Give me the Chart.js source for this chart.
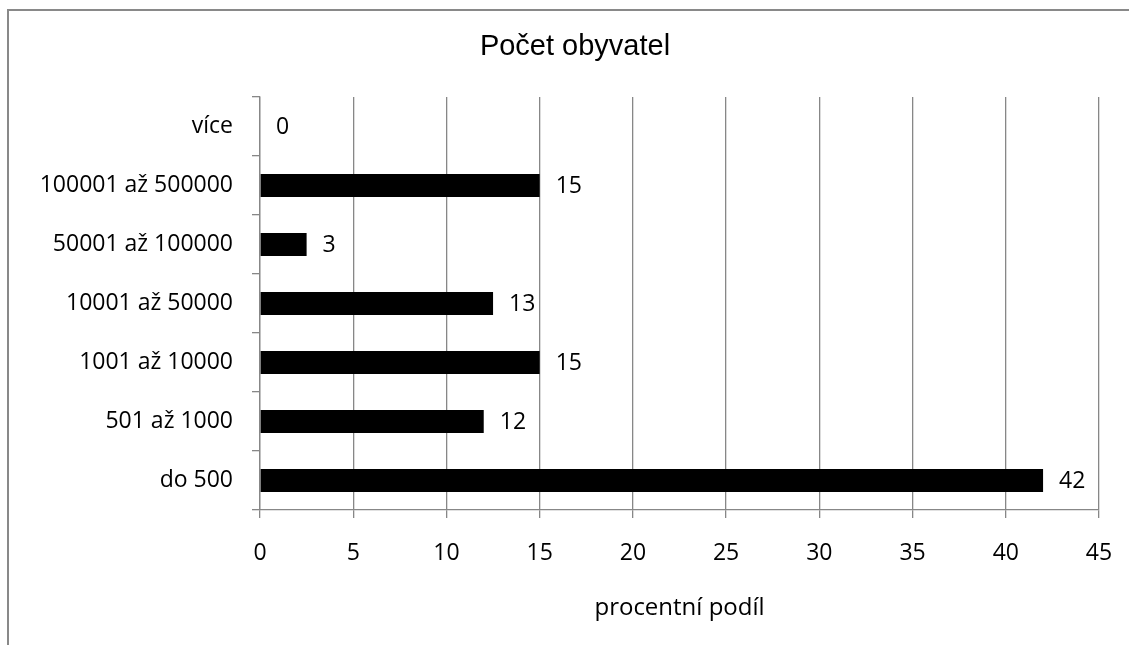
<!DOCTYPE html>
<html lang="cs">
<head>
<meta charset="utf-8">
<title>Počet obyvatel</title>
<script src="https://cdn.jsdelivr.net/npm/chart.js@4.4.1/dist/chart.umd.min.js"></script>
<style>
  html, body { margin: 0; padding: 0; background: #fff; }
  #wrap { width: 1129px; height: 645px; position: relative; }
  canvas { display: block; }
</style>
</head>
<body>
<div id="wrap"><canvas id="chart" width="1129" height="645"></canvas></div>
<script>
// Share of municipalities by population size (percent)
const categories = ['do 500', '501 až 1000', '1001 až 10000', '10001 až 50000', '50001 až 100000', '100001 až 500000', 'více'];
const shares = [42, 12, 15, 12.5, 2.5, 15, 0];
const xTicks = [0, 5, 10, 15, 20, 25, 30, 35, 40, 45];
const chartTitle = 'Počet obyvatel';
const axisTitle = 'procentní podíl';

const GRID = '#878787';
const BODY_FONT = '"Open Sans", "Liberation Sans", sans-serif';

// Outer frame of the chart (top and left edges) and the chart title
const framePlugin = {
  id: 'frame',
  beforeDraw(chart) {
    const ctx = chart.ctx;
    ctx.save();
    ctx.fillStyle = '#fff';
    ctx.fillRect(0, 0, chart.width, chart.height);
    ctx.strokeStyle = '#898989';
    ctx.lineWidth = 2;
    ctx.beginPath();
    ctx.moveTo(8, chart.height);
    ctx.lineTo(8, 10);
    ctx.lineTo(chart.width, 10);
    ctx.stroke();

    ctx.fillStyle = '#000';
    ctx.font = '29px "Liberation Sans", Arial, sans-serif';
    ctx.textAlign = 'center';
    ctx.textBaseline = 'middle';
    ctx.fillText(chartTitle, 575, 47);
    ctx.restore();
  }
};

// Value labels placed just past the end of each bar
const valueLabels = {
  id: 'valueLabels',
  afterDatasetsDraw(chart) {
    const ctx = chart.ctx;
    const meta = chart.getDatasetMeta(0);
    const data = chart.data.datasets[0].data;
    ctx.save();
    ctx.font = '23px ' + BODY_FONT;
    ctx.fillStyle = '#000';
    ctx.textAlign = 'left';
    ctx.textBaseline = 'middle';
    meta.data.forEach((bar, i) => {
      ctx.fillText(String(Math.round(data[i])), bar.x + 16, bar.y + 1);
    });
    ctx.restore();
  }
};

new Chart(document.getElementById('chart'), {
  type: 'bar',
  data: {
    labels: categories,
    datasets: [{
      data: shares,
      backgroundColor: '#000',
      borderWidth: 0,
      barPercentage: 0.39,
      categoryPercentage: 1
    }]
  },
  plugins: [framePlugin, valueLabels],
  options: {
    indexAxis: 'y',
    responsive: false,
    animation: false,
    devicePixelRatio: 1,
    layout: { padding: { left: 10, right: 30, top: 97, bottom: 0 } },
    plugins: {
      legend: { display: false },
      tooltip: { enabled: false },
      title: { display: false }
    },
    scales: {
      x: {
        type: 'linear',
        min: xTicks[0],
        max: xTicks[xTicks.length - 1],
        afterBuildTicks(scale) {
          scale.ticks = xTicks.map(v => ({ value: v }));
        },
        afterFit(scale) {
          scale.height = 135;
          scale.paddingRight = 0;
          scale.paddingLeft = 0;
        },
        grid: {
          color: GRID,
          lineWidth: 1.3,
          tickLength: 8,
          drawOnChartArea: true,
          drawTicks: true
        },
        border: { display: true, color: GRID, width: 1.3 },
        ticks: {
          color: '#000',
          padding: 22,
          maxRotation: 0,
          autoSkip: false,
          font: { family: BODY_FONT, size: 23 }
        },
        title: {
          display: true,
          text: axisTitle,
          color: '#000',
          font: { family: BODY_FONT, size: 24, lineHeight: 1.2 },
          padding: { top: 0, bottom: 22.6 }
        }
      },
      y: {
        reverse: true,
        afterFit(scale) { scale.width = 250; },
        grid: {
          offset: true,
          drawOnChartArea: false,
          color: GRID,
          lineWidth: 1.3,
          tickLength: 8
        },
        border: { display: true, color: GRID, width: 1.3 },
        ticks: {
          color: '#000',
          padding: 19,
          autoSkip: false,
          font: { family: BODY_FONT, size: 23 }
        }
      }
    }
  }
});
</script>
</body>
</html>
